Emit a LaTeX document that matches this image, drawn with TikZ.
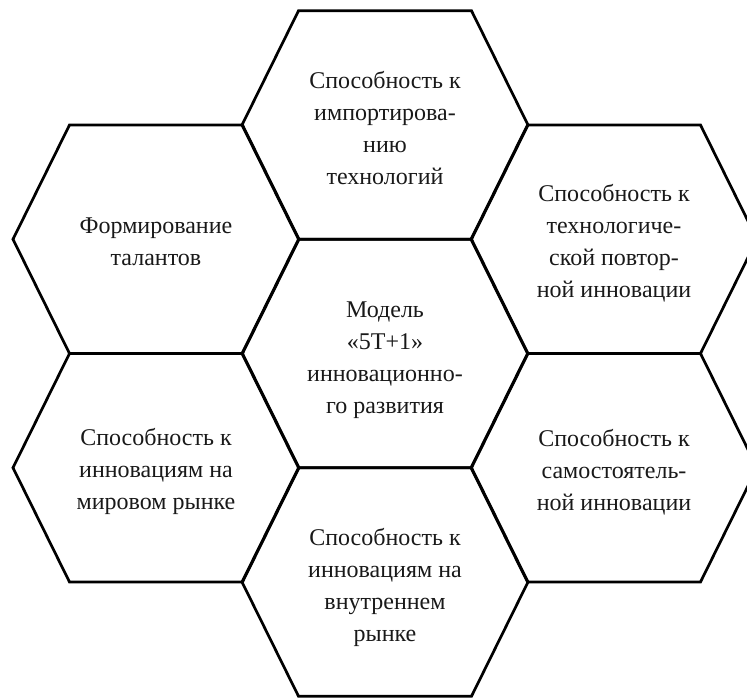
\documentclass[tikz,border=0pt]{standalone}
\usepackage{fontspec}
\setmainfont{Liberation Serif}
\begin{document}
\begin{tikzpicture}[x=1pt,y=-1pt,
  hexline/.style={draw=black,line width=2.7pt,line join=miter},
  hextext/.style={align=center,inner sep=0pt,text=black!90,
    font=\fontsize{24}{32}\selectfont}]
\useasboundingbox (0,0) rectangle (747,698);
\clip (0,0) rectangle (747,698);
\def\hw{143}\def\hs{86.5}\def\hh{114.25}
% text nodes (named) at hexagon centres
\node[hextext] (c)  at (385,360) {Модель\\«5T+1»\\инновационно-\\го развития};
\node[hextext] (t)  at (385,128) {Способность к\\импортирова-\\нию\\технологий};
\node[hextext] (b)  at (385,587) {Способность к\\инновациям на\\внутреннем\\рынке};
\node[hextext] (tl) at (156,242) {Формирование\\талантов};
\node[hextext] (bl) at (156,471) {Способность к\\инновациям на\\мировом рынке};
\node[hextext] (tr) at (614,243) {Способность к\\технологиче-\\ской повтор-\\ной инновации};
\node[hextext] (br) at (614,472) {Способность к\\самостоятель-\\ной инновации};
% hexagons
\foreach \cx/\cy in {385/353.5,385/125,385/582,156/239.25,156/467.75,614/239.25,614/467.75}{
  \draw[hexline] (\cx-\hw,\cy) -- (\cx-\hs,\cy-\hh) -- (\cx+\hs,\cy-\hh)
    -- (\cx+\hw,\cy) -- (\cx+\hs,\cy+\hh) -- (\cx-\hs,\cy+\hh) -- cycle;
}
\end{tikzpicture}
\end{document}
